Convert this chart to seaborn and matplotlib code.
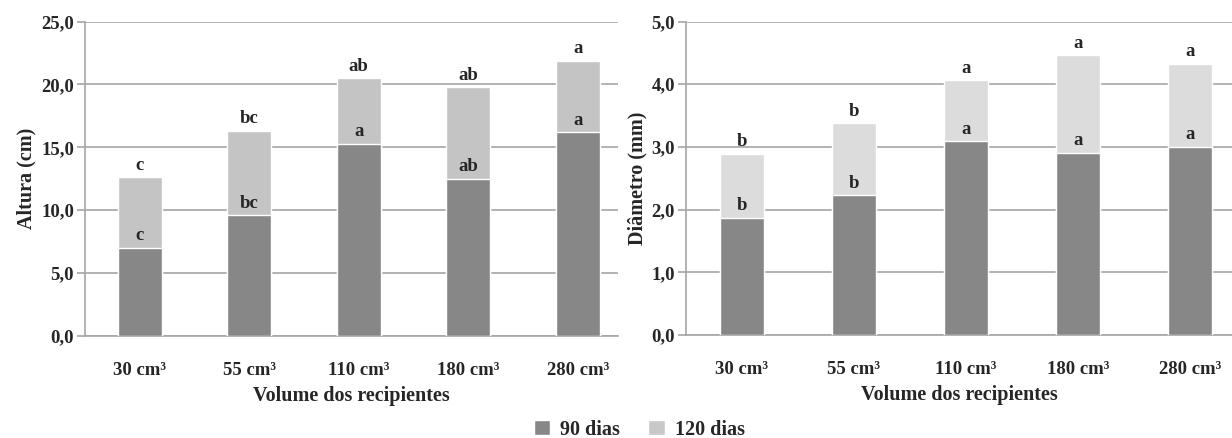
import matplotlib
matplotlib.use("Agg")
import matplotlib.pyplot as plt
import seaborn as sns
import pandas as pd
from matplotlib.patches import Patch
from matplotlib.ticker import FixedLocator, FuncFormatter

# data
volumes = ["30 cm³", "55 cm³", "110 cm³", "180 cm³", "280 cm³"]
altura_90 = [7.0, 9.6, 15.3, 12.5, 16.2]
altura_120 = [12.6, 16.3, 20.5, 19.8, 21.9]
altura_let_90 = ["c", "bc", "a", "ab", "a"]
altura_let_120 = ["c", "bc", "ab", "ab", "a"]
diam_90 = [1.87, 2.23, 3.09, 2.91, 3.00]
diam_120 = [2.89, 3.38, 4.06, 4.46, 4.33]
diam_let_90 = ["b", "b", "a", "a", "a"]
diam_let_120 = ["b", "b", "a", "a", "a"]

DARK = "#878787"
LIGHT_L = "#c4c4c4"
LIGHT_R = "#dcdcdc"
GRID = "#a6a6a6"
FONT = "Liberation Serif"

sns.set_theme(style="white")
plt.rcParams["font.family"] = [FONT, "DejaVu Serif"]
plt.rcParams["font.weight"] = "bold"


def draw_panel(ax, v90, v120, let90, let120, light, ymax, ystep, ylabel, xmax):
    df = pd.DataFrame({"vol": volumes, "d90": v90, "d120": v120})
    sns.barplot(data=df, x="vol", y="d120", color=light, width=0.40,
                saturation=1, ax=ax, zorder=3)
    sns.barplot(data=df, x="vol", y="d90", color=DARK, width=0.40,
                saturation=1, ax=ax, zorder=3)
    for i in range(len(volumes)):
        ax.annotate(let90[i], (i, v90[i]), xytext=(0, 2.5), textcoords="offset points",
                    ha="center", va="bottom", fontsize=13.5, fontweight="bold", zorder=4)
        ax.annotate(let120[i], (i, v120[i]), xytext=(0, 2.5), textcoords="offset points",
                    ha="center", va="bottom", fontsize=13.5, fontweight="bold", zorder=4)
    ax.set_ylim(0, ymax)
    ax.set_xlim(-0.5, xmax)
    yt = [ystep * k for k in range(int(round(ymax / ystep)) + 1)]
    ax.yaxis.set_major_locator(FixedLocator(yt))
    ax.yaxis.set_major_formatter(FuncFormatter(lambda v, p: f"{v:.1f}".replace(".", ",")))
    ax.grid(axis="y", color=GRID, linewidth=1.2, zorder=0)
    ax.set_axisbelow(True)
    for s in ["top", "right"]:
        ax.spines[s].set_visible(False)
    for s in ["left", "bottom"]:
        ax.spines[s].set_color(GRID)
        ax.spines[s].set_linewidth(1.2)
    ax.xaxis.set_minor_locator(FixedLocator([i - 0.5 for i in range(len(volumes) + 1)]))
    ax.tick_params(axis="x", which="major", length=0, pad=19)
    ax.tick_params(axis="x", which="minor", length=6, color=GRID, width=1.2, direction="out")
    ax.tick_params(axis="y", length=6, color=GRID, width=1.2, direction="out", left=True, pad=2)
    for lab in ax.get_xticklabels() + ax.get_yticklabels():
        lab.set_fontsize(13.5)
        lab.set_fontweight("bold")
    ax.set_xlabel("Volume dos recipientes", fontsize=14.5, fontweight="bold", labelpad=5)
    ax.set_ylabel(ylabel, fontsize=14.5, fontweight="bold", labelpad=3)


fig = plt.figure(figsize=(12.32, 4.38), dpi=100)
ax1 = fig.add_axes([0.069, 0.2336, 0.4326, 0.7169])
ax2 = fig.add_axes([0.5568, 0.2352, 0.4432, 0.7157])

draw_panel(ax1, altura_90, altura_120, altura_let_90, altura_let_120, LIGHT_L,
           25, 5, "Altura (cm)", 4.368)
draw_panel(ax2, diam_90, diam_120, diam_let_90, diam_let_120, LIGHT_R,
           5, 1, "Diâmetro (mm)", 4.375)

handles = [Patch(facecolor=DARK, label="90 dias"),
           Patch(facecolor="#c8c8c8", label="120 dias")]
fig.legend(handles=handles, loc="lower center", bbox_to_anchor=(0.519, -0.045), ncol=2,
           frameon=False, prop={"family": FONT, "weight": "bold", "size": 14.5},
           handlelength=0.8, handleheight=0.8, columnspacing=1.4, handletextpad=0.5)

fig.savefig("out.png", dpi=100)
